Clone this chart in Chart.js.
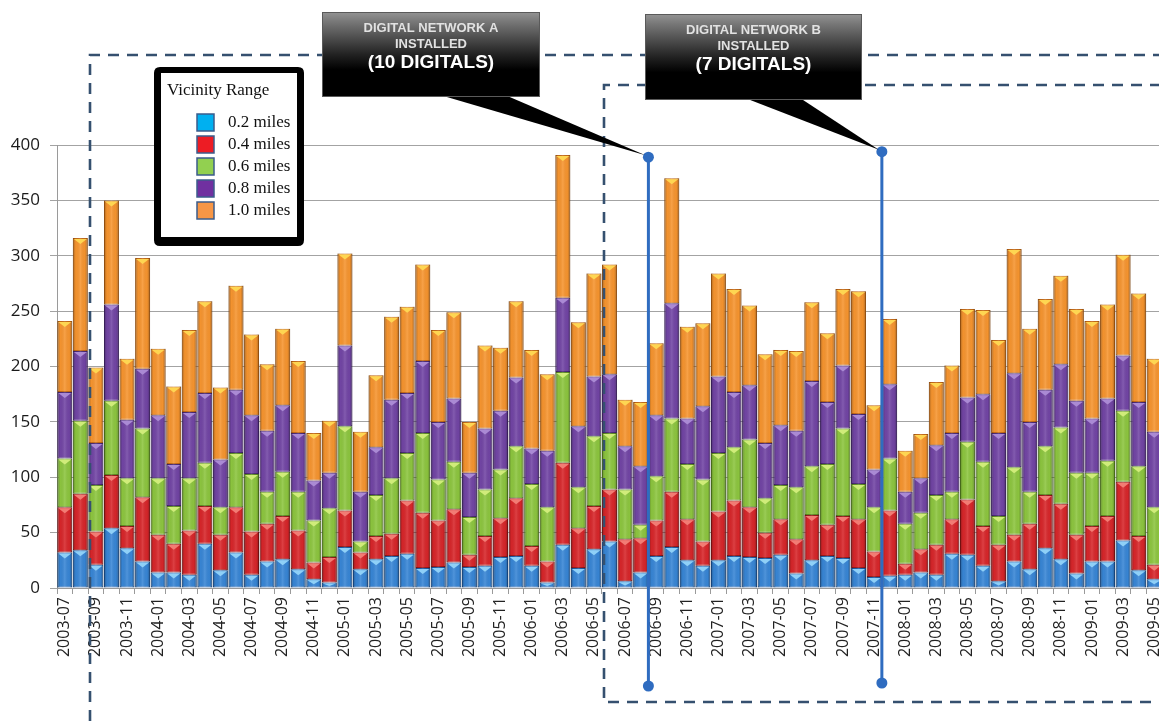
<!DOCTYPE html>
<html>
<head>
<meta charset="utf-8">
<script src="https://cdn.jsdelivr.net/npm/chart.js@4.4.1/dist/chart.umd.min.js"></script>
<style>
  html, body { margin: 0; padding: 0; background: #fff; overflow: hidden; }
  #wrap { position: absolute; left: 0; top: 0; width: 1162px; height: 727px; }
</style>
</head>
<body>
<div id="wrap"><canvas id="chart"></canvas></div>
<script>
// Monthly counts, stacked by vicinity range
const months = [
  '2003-07','2003-08','2003-09','2003-10','2003-11','2003-12',
  '2004-01','2004-02','2004-03','2004-04','2004-05','2004-06','2004-07','2004-08','2004-09','2004-10','2004-11','2004-12',
  '2005-01','2005-02','2005-03','2005-04','2005-05','2005-06','2005-07','2005-08','2005-09','2005-10','2005-11','2005-12',
  '2006-01','2006-02','2006-03','2006-04','2006-05','2006-06','2006-07','2006-08','2006-09','2006-10','2006-11','2006-12',
  '2007-01','2007-02','2007-03','2007-04','2007-05','2007-06','2007-07','2007-08','2007-09','2007-10','2007-11','2007-12',
  '2008-01','2008-02','2008-03','2008-04','2008-05','2008-06','2008-07','2008-08','2008-09','2008-10','2008-11','2008-12',
  '2009-01','2009-02','2009-03','2009-04','2009-05'
];

const range02 = [32,34,21,54,36,24, 14,14,12,40,16,32,12,24,26,17,8,5, 37,17,26,29,31,18,19,23,19,20,28,29,
                 20,5,39,18,35,42,6,14,29,37,25,20, 25,29,28,27,30,13,25,29,27,18,10,11,
                 12,14,12,31,30,20,6,24,17,36,26,13, 24,24,43,16,8];
const range04 = [41,51,30,48,20,58, 34,26,40,34,32,41,39,34,39,35,15,23, 33,15,21,20,48,50,42,48,11,27,35,52,
                 18,19,74,36,39,47,38,31,32,50,37,22, 44,50,45,23,32,31,41,28,38,44,23,59,
                 10,21,27,31,50,36,33,24,41,48,50,35, 32,41,53,31,13];
const range06 = [44,66,42,67,43,62, 51,34,47,39,25,49,52,29,40,35,38,44, 76,10,37,50,43,72,37,43,34,42,44,47,
                 56,49,82,37,63,51,45,12,40,66,50,56, 53,48,61,31,31,47,44,55,79,32,40,47,
                 36,33,45,25,52,58,26,61,29,44,69,56, 48,50,64,63,52];
const range08 = [60,63,38,87,53,54, 57,38,60,63,43,57,53,55,60,53,36,32, 73,45,43,71,54,65,52,57,40,55,53,62,
                 32,51,67,55,54,53,39,53,55,104,41,66, 69,50,49,50,54,51,77,56,57,63,34,67,
                 29,31,45,53,40,61,75,85,63,51,57,65, 49,56,50,58,68];
const range10 = [64,102,68,94,55,100, 60,70,74,83,65,94,73,60,69,65,43,47, 83,54,65,75,78,87,83,78,46,75,57,69,
                 89,69,129,94,93,99,42,58,65,113,83,75, 93,93,72,80,68,72,71,62,69,111,58,59,
                 37,40,57,61,80,76,84,112,84,82,80,83, 88,85,91,98,66];

const rangeNames = ['0.2 miles', '0.4 miles', '0.6 miles', '0.8 miles', '1.0 miles'];
const rangeSeries = [range02, range04, range06, range08, range10];

// Bar body, edge and top-facet shades per range; legend swatch shades
const bodyColors  = ['#3886d6', '#d8262a', '#8dc63f', '#7245a5', '#f7952f'];
const edgeColors  = ['#1d5aa3', '#981818', '#5e8c24', '#4a2a76', '#c46a16'];
const facetColors = ['#8fd0f7', '#f27c74', '#d0ec7a', '#aa8ad4', '#fed652'];
const swatchColors = ['#00b0f0', '#ed1c24', '#92d050', '#7030a0', '#f79646'];

// Network installations: the month after which each went live
const installs = [
  { after: '2006-08', lines: ['DIGITAL NETWORK A', 'INSTALLED'], count: '(10 DIGITALS)', level: 389 },
  { after: '2007-11', lines: ['DIGITAL NETWORK B', 'INSTALLED'], count: '(7 DIGITALS)', level: 394 }
];

// Lighting on each bar segment: dark sides and a light chevron on top
const bevelPlugin = {
  id: 'bevel',
  afterDatasetsDraw(chart) {
    const { ctx, chartArea: a } = chart;
    ctx.save();
    ctx.beginPath();
    ctx.rect(a.left, a.top, a.right - a.left, a.bottom - a.top);
    ctx.clip();
    chart.data.datasets.forEach((ds, di) => {
      chart.getDatasetMeta(di).data.forEach(bar => {
        const { x, y, base, width } = bar.getProps(['x', 'y', 'base', 'width'], true);
        const l = x - width / 2, r = x + width / 2;
        const t = Math.min(y, base), b = Math.max(y, base), h = b - t;
        if (h < 1) return;
        const g = ctx.createLinearGradient(l, 0, r, 0);
        g.addColorStop(0, 'rgba(0,0,0,0.30)');
        g.addColorStop(0.2, 'rgba(0,0,0,0.02)');
        g.addColorStop(0.5, 'rgba(255,255,255,0.12)');
        g.addColorStop(0.8, 'rgba(0,0,0,0.02)');
        g.addColorStop(1, 'rgba(0,0,0,0.30)');
        ctx.fillStyle = g;
        ctx.fillRect(l, t, width, h);
        const th = Math.min(5, h / 2);
        ctx.fillStyle = facetColors[di];
        ctx.beginPath();
        ctx.moveTo(l + 1, t + 1);
        ctx.lineTo(r - 1, t + 1);
        ctx.lineTo(x, t + 1 + th);
        ctx.closePath();
        ctx.fill();
      });
    });
    ctx.restore();
  }
};

function roundRect(ctx, x, y, w, h, r) {
  ctx.beginPath();
  ctx.moveTo(x + r, y);
  ctx.lineTo(x + w - r, y);
  ctx.quadraticCurveTo(x + w, y, x + w, y + r);
  ctx.lineTo(x + w, y + h - r);
  ctx.quadraticCurveTo(x + w, y + h, x + w - r, y + h);
  ctx.lineTo(x + r, y + h);
  ctx.quadraticCurveTo(x, y + h, x, y + h - r);
  ctx.lineTo(x, y + r);
  ctx.quadraticCurveTo(x, y, x + r, y);
  ctx.closePath();
}

// Dashed period frames, installation markers, callouts and the legend box
const overlayPlugin = {
  id: 'overlay',
  afterDraw(chart) {
    const { ctx, chartArea: a } = chart;
    const xs = chart.scales.x, ys = chart.scales.y;
    ctx.save();

    // period frames
    ctx.strokeStyle = '#35506f';
    ctx.lineWidth = 2.6;
    ctx.setLineDash([11, 8]);
    ctx.beginPath();
    ctx.moveTo(90, 740); ctx.lineTo(90, 55); ctx.lineTo(1180, 55);
    ctx.stroke();
    ctx.beginPath();
    ctx.moveTo(1180, 85); ctx.lineTo(604, 85); ctx.lineTo(604, 702); ctx.lineTo(1180, 702);
    ctx.stroke();
    ctx.setLineDash([]);

    // installation markers
    const boxes = [
      { x: 322, y: 12, w: 218, h: 85, tail: [440, 505] },
      { x: 645, y: 14, w: 217, h: 86, tail: [745, 800] }
    ];
    const bottoms = [a.bottom + 98, a.bottom + 95];
    installs.forEach((ev, k) => {
      const i = months.indexOf(ev.after);
      const px = (xs.getPixelForValue(i) + xs.getPixelForValue(i + 1)) / 2;
      const top = ys.getPixelForValue(ev.level);
      const bot = bottoms[k];
      ctx.strokeStyle = '#2f6cc0';
      ctx.fillStyle = '#2f6cc0';
      ctx.lineWidth = 3;
      ctx.beginPath(); ctx.moveTo(px, top); ctx.lineTo(px, bot); ctx.stroke();
      ctx.beginPath(); ctx.arc(px, top, 5.5, 0, Math.PI * 2); ctx.fill();
      ctx.beginPath(); ctx.arc(px, bot, 5.5, 0, Math.PI * 2); ctx.fill();

      const bx = boxes[k];
      // pointer
      ctx.fillStyle = '#000';
      ctx.beginPath();
      ctx.moveTo(bx.tail[0], bx.y + bx.h - 2);
      ctx.lineTo(bx.tail[1], bx.y + bx.h - 2);
      ctx.lineTo(px - 3, top - 2);
      ctx.closePath();
      ctx.fill();
      // box
      const g = ctx.createLinearGradient(0, bx.y, 0, bx.y + bx.h);
      g.addColorStop(0, '#949494');
      g.addColorStop(0.12, '#767676');
      g.addColorStop(0.5, '#222');
      g.addColorStop(0.68, '#000');
      g.addColorStop(1, '#000');
      ctx.fillStyle = g;
      ctx.fillRect(bx.x, bx.y, bx.w, bx.h);
      ctx.strokeStyle = '#5a5a5a';
      ctx.lineWidth = 1;
      ctx.strokeRect(bx.x + 0.5, bx.y + 0.5, bx.w - 1, bx.h - 1);
      // text
      const cx = bx.x + bx.w / 2;
      ctx.textAlign = 'center';
      ctx.textBaseline = 'middle';
      ctx.fillStyle = '#e2e2e2';
      ctx.font = 'bold 13px "Liberation Sans", Arial, sans-serif';
      ctx.fillText(ev.lines[0], cx, bx.y + 16);
      ctx.fillText(ev.lines[1], cx, bx.y + 32);
      ctx.fillStyle = '#ffffff';
      ctx.font = 'bold 19px "Liberation Sans", Arial, sans-serif';
      ctx.fillText(ev.count, cx, bx.y + 51);
    });

    // legend box
    ctx.fillStyle = '#000';
    roundRect(ctx, 154, 67, 150, 179, 6);
    ctx.fill();
    ctx.fillStyle = '#fff';
    ctx.fillRect(161, 73, 136, 164);
    ctx.textAlign = 'left';
    ctx.textBaseline = 'middle';
    ctx.fillStyle = '#111';
    ctx.font = '17px "Liberation Serif", "Times New Roman", serif';
    ctx.fillText('Vicinity Range', 167, 91);
    chart.data.datasets.forEach((ds, di) => {
      const cy = 122 + di * 22;
      ctx.fillStyle = swatchColors[di];
      ctx.fillRect(197, cy - 8, 17, 17);
      ctx.strokeStyle = '#3b5c8c';
      ctx.lineWidth = 1.5;
      ctx.strokeRect(197, cy - 8, 17, 17);
      ctx.fillStyle = '#111';
      ctx.fillText(ds.label, 228, cy + 1);
    });

    ctx.restore();
  }
};

const datasets = rangeSeries.map((values, i) => ({
  label: rangeNames[i],
  data: values,
  backgroundColor: bodyColors[i],
  borderColor: edgeColors[i],
  borderWidth: 1,
  borderSkipped: false,
  barPercentage: 0.96,
  categoryPercentage: 1.0
}));

new Chart(document.getElementById('chart'), {
  type: 'bar',
  data: { labels: months, datasets },
  options: {
    responsive: true,
    maintainAspectRatio: false,
    animation: false,
    layout: { padding: { top: 145, left: 0, right: 0, bottom: 0 } },
    plugins: { legend: { display: false }, tooltip: { enabled: false } },
    scales: {
      x: {
        stacked: true,
        afterFit(s) { s.height = 139; s.paddingLeft = 0; s.paddingRight = 0; },
        grid: { drawOnChartArea: false, drawTicks: true, tickLength: 6, color: '#9a9a9a' },
        border: { display: true, color: '#9a9a9a' },
        ticks: {
          autoSkip: false,
          minRotation: 90,
          maxRotation: 90,
          padding: 3,
          color: '#222',
          font: { family: '"Open Sans", sans-serif', size: 16 },
          callback(v, i) { return i % 2 === 0 ? months[i] : ''; }
        }
      },
      y: {
        stacked: true,
        min: 0,
        max: 400,
        afterFit(s) { s.width = 57; },
        grid: { color: '#a3a3a3', tickLength: 7, drawTicks: true },
        border: { display: true, color: '#9a9a9a' },
        ticks: {
          stepSize: 50,
          padding: 10,
          color: '#1a1a1a',
          font: { family: '"Open Sans", sans-serif', size: 17 }
        }
      }
    }
  },
  plugins: [bevelPlugin, overlayPlugin]
});
</script>
</body>
</html>
